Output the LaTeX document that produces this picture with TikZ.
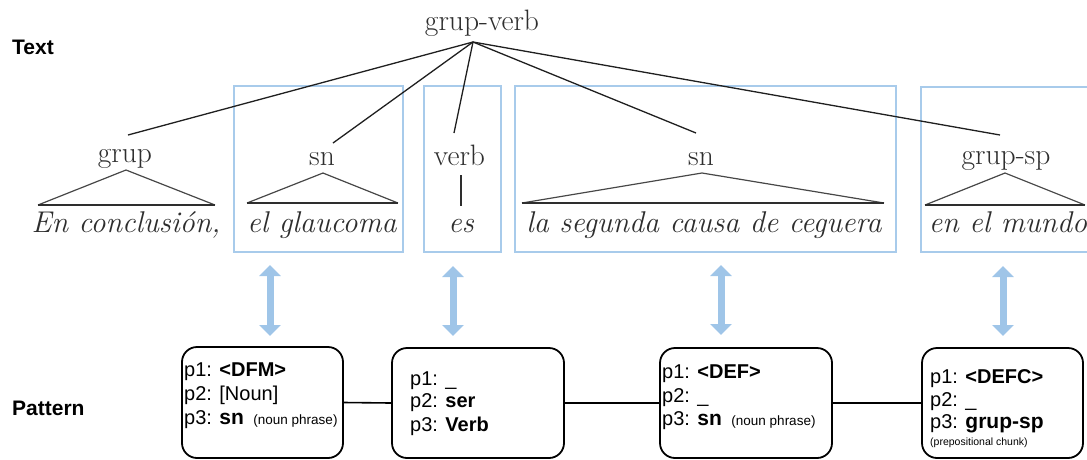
\documentclass[tikz,border=0pt]{standalone}
\usepackage{fontspec}
\newfontfamily\arialf{Liberation Sans}
\usetikzlibrary{arrows.meta}
\definecolor{linkblue}{HTML}{9FC5E8}
\definecolor{frameblue}{HTML}{A8CBEB}
\definecolor{treegray}{HTML}{2E2E2E}
\newcommand\smallnote[1]{{\fontsize{13.5}{16}\selectfont #1}}
\newcommand\tinynote[1]{{\fontsize{10.5}{12}\selectfont #1}}
\tikzset{
  cat/.style={font=\fontsize{29.5}{34}\selectfont, text=treegray, anchor=base, inner sep=0},
  word/.style={font=\fontsize{30}{34}\selectfont\itshape, text=treegray, anchor=base, inner sep=0},
  edge/.style={line width=1.3pt, draw=black!88},
  tri/.style={line width=1.2pt, draw=black!72},
  tribase/.style={line width=1.8pt, draw=black!82},
  frame/.style={draw=frameblue, line width=1.4pt},
  link/.style={draw=linkblue, line width=7pt,
    {Triangle[width=21pt,length=11pt]}-{Triangle[width=21pt,length=11pt]}},
  pbox/.style={draw, line width=1.8pt, rounded corners=15pt, inner sep=0},
  pline/.style={line width=1.6pt},
  ptext/.style={font=\arialf\fontsize{20}{24}\selectfont, anchor=base west, inner sep=0},
  side/.style={font=\arialf\bfseries\fontsize{21}{25}\selectfont, anchor=base west, inner sep=0},
}
\begin{document}
\begin{tikzpicture}[x=1pt,y=-1pt]
\useasboundingbox (0,0) rectangle (1087,459);

% row labels
\node[side] (lblText) at (12,54) {Text};
\node[side] (lblPattern) at (12,415) {Pattern};

% highlight frames around the matched constituents
\draw[frame] (234,86) rectangle (403,252);
\draw[frame] (424,86) rectangle (501,252);
\draw[frame] (515,86) rectangle (896,252);
\draw[frame] (1090,87) -- (921,87) -- (921,252) -- (1090,252);

% parse tree
\node[cat] (gv) at (482,30) {grup-verb};
\coordinate (apex) at (473,42);
\node[cat] (c1) at (125,162) {grup};
\node[cat] (c2) at (322,165) {sn};
\node[cat] (c3) at (459.5,165) {verb};
\node[cat] (c4) at (701,165) {sn};
\node[cat] (c5) at (1006,164) {grup-sp};

\coordinate (e1) at (128,135);
\coordinate (e2) at (333,143);
\coordinate (e3) at (454,133);
\coordinate (e4) at (696,133);
\coordinate (e5) at (1000,135);
\foreach \e in {e1,e2,e3,e4,e5} \draw[edge] (apex) -- (\e);

\node[word] (w1) at (126,232) {En conclusión,};
\node[word] (w2) at (322,232) {el glaucoma};
\node[word] (w3) at (461,232) {es};
\node[word] (w4) at (704,232) {la segunda causa de ceguera};
\node[word] (w5) at (1008,232) {en el mundo};

% constituent triangles
\draw[tri] (38,205) -- (126,170) -- (215,205);
\draw[tribase] (38,205) -- (215,205);
\draw[tri] (247,203) -- (323,173) -- (398,203);
\draw[tribase] (247,203) -- (398,203);
\draw[tri] (522,203) -- (702,173) -- (884,203);
\draw[tribase] (522,203) -- (884,203);
\draw[tri] (925,205) -- (1005,173) -- (1085,205);
\draw[tribase] (925,205) -- (1085,205);
\draw[tribase] (461,175) -- (461,206);

% correspondence arrows
\coordinate (a1t) at (270,265); \coordinate (a1b) at (270,336);
\coordinate (a2t) at (453,266); \coordinate (a2b) at (453,336);
\coordinate (a3t) at (721,265); \coordinate (a3b) at (721,335);
\coordinate (a4t) at (1003,266); \coordinate (a4b) at (1003,336);
\draw[link] (a1t) -- (a1b);
\draw[link] (a2t) -- (a2b);
\draw[link] (a3t) -- (a3b);
\draw[link] (a4t) -- (a4b);

% pattern boxes
\node[pbox, minimum width=161pt, minimum height=111pt] (b1) at (262.5,402.5) {};
\node[pbox, minimum width=172pt, minimum height=110pt] (b2) at (478,403) {};
\node[pbox, minimum width=172pt, minimum height=110pt] (b3) at (746,403) {};
\node[pbox, minimum width=161pt, minimum height=110pt] (b4) at (1002.5,403) {};
\draw[pline] (b1.east) -- (b2.west);
\draw[pline] (b2.east) -- (b3.west);
\draw[pline] (b3.east) -- (b4.west);

\node[ptext] (b1a) at (184,376) {p1: \textbf{<DFM>}};
\node[ptext] (b1b) at (184,400) {p2: [Noun]};
\node[ptext] (b1c) at (184,424) {p3: {\fontsize{21}{24}\selectfont\textbf{sn}}\hspace{4pt} \smallnote{(noun phrase)}};

\node[ptext] (b2a) at (410,385) {p1: \_};
\node[ptext] (b2b) at (410,407) {p2: \textbf{ser}};
\node[ptext] (b2c) at (410,431) {p3: \textbf{Verb}};

\node[ptext] (b3a) at (662,378) {p1: \textbf{<DEF>}};
\node[ptext] (b3b) at (662,402) {p2: \_};
\node[ptext] (b3c) at (662,425) {p3: {\fontsize{21}{24}\selectfont\textbf{sn}}\hspace{4pt} \smallnote{(noun phrase)}};

\node[ptext] (b4a) at (930,383) {p1: \textbf{<DEFC>}};
\node[ptext] (b4b) at (930,406) {p2: \_};
\node[ptext] (b4c) at (930,428) {p3: {\fontsize{21}{24}\selectfont\textbf{grup-sp}}};
\node[ptext] (b4d) at (930,445) {\tinynote{(prepositional chunk)}};
\end{tikzpicture}
\end{document}
